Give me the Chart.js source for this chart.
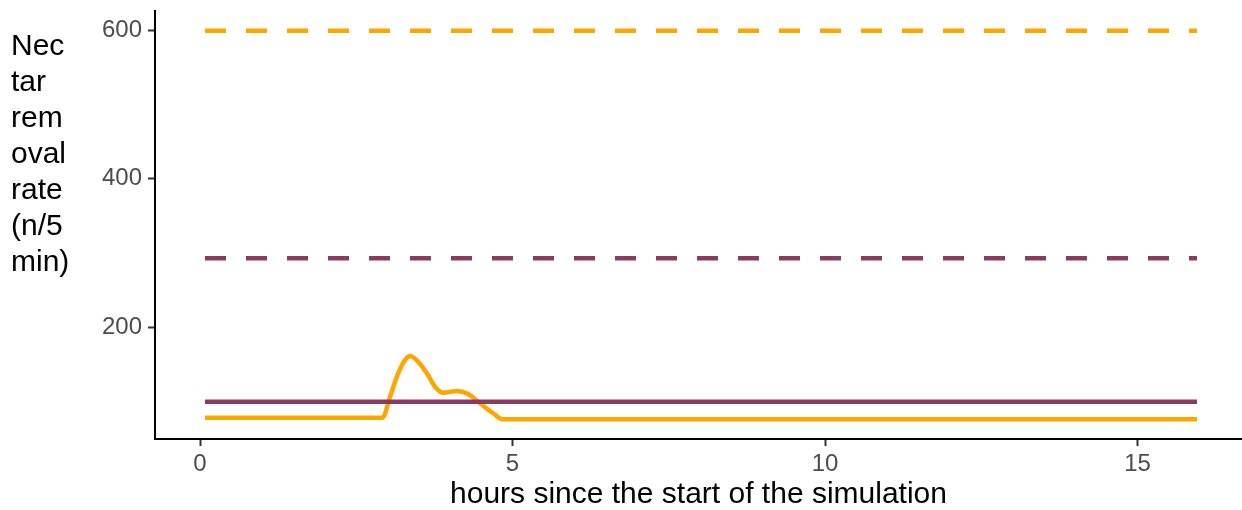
<!DOCTYPE html>
<html>
<head>
<meta charset="utf-8">
<script src="https://cdn.jsdelivr.net/npm/chart.js@4"></script>
<style>
html,body{margin:0;padding:0;background:#fff;}
#wrap{width:1242px;height:510px;position:relative;}
</style>
</head>
<body>
<div id="wrap"><canvas id="c" width="1242" height="510"></canvas></div>
<script>
// ---- data ----
const xTicks = [0, 5, 10, 15];
const yTicks = [200, 400, 600];
const xTitle = "hours since the start of the simulation";
const yTitleLines = ["Nec", "tar", "rem", "oval", "rate", "(n/5", "min)"];

const lineStartEnd = [0.08, 15.95];
const orangeDashedLevel = 599;
const purpleDashedLevel = 293;
const purpleSolidLevel = 100;

const orangeHours = [0.08, 2.92, 3.04, 3.17, 3.28, 3.36, 3.49, 3.63, 3.76, 3.89, 4.11, 4.29, 4.48, 4.69, 4.84, 15.95];
const orangeRate  = [78.7, 78.7, 106.8, 138.3, 156.1, 161.5, 153.8, 138.3, 120.3, 112.2, 114.5, 110.5, 98.0, 84.6, 76.6, 76.6];

const ORANGE = "#FFA500";
const PURPLE = "#8B3A62";

function pts(xs, ys){ return xs.map((x,i)=>({x:x, y:ys[i]})); }
function flat(level){ return lineStartEnd.map(x=>({x:x, y:level})); }

const titlePlugin = {
  id: 'titles',
  afterDraw(chart){
    const ctx = chart.ctx;
    ctx.save();
    ctx.fillStyle = '#000';
    ctx.font = '30px "Liberation Sans", Arial, sans-serif';
    ctx.textAlign = 'left';
    ctx.textBaseline = 'alphabetic';
    yTitleLines.forEach((t,i)=>{ ctx.fillText(t, 11, 55 + i*36); });
    ctx.textAlign = 'center';
    const ca = chart.chartArea;
    ctx.fillText(xTitle, (ca.left + ca.right)/2, 503);
    ctx.restore();
  }
};

new Chart(document.getElementById('c'), {
  type: 'line',
  data: {
    datasets: [
      { data: flat(orangeDashedLevel), borderColor: ORANGE, borderWidth: 4.5, borderDash: [21, 20], pointRadius: 0, borderCapStyle: 'butt' },
      { data: flat(purpleDashedLevel), borderColor: PURPLE, borderWidth: 4.5, borderDash: [21, 20], pointRadius: 0, borderCapStyle: 'butt' },
      { data: flat(purpleSolidLevel), borderColor: PURPLE, borderWidth: 4.5, pointRadius: 0 },
      { data: pts(orangeHours, orangeRate), borderColor: ORANGE, borderWidth: 4.5, pointRadius: 0, cubicInterpolationMode: 'monotone' }
    ]
  },
  options: {
    responsive: false,
    animation: false,
    layout: { padding: { top: 10, left: 0, right: 0, bottom: 0 } },
    plugins: { legend: { display: false }, tooltip: { enabled: false } },
    scales: {
      x: {
        type: 'linear',
        min: -0.72, max: 16.67,
        afterBuildTicks(s){ s.ticks = xTicks.map(v=>({value:v})); },
        afterFit(s){ s.height = 71; },
        grid: { drawOnChartArea: false, drawTicks: true, tickLength: 7, tickColor: '#333', tickWidth: 2 },
        border: { display: true, color: '#000', width: 2 },
        ticks: { color: '#4D4D4D', font: { size: 24, family: '"Liberation Sans", Arial, sans-serif' }, padding: 4, maxRotation: 0 }
      },
      y: {
        type: 'linear',
        min: 50, max: 626,
        afterBuildTicks(s){ s.ticks = yTicks.map(v=>({value:v})); },
        afterFit(s){ s.width = 155; },
        grid: { drawOnChartArea: false, drawTicks: true, tickLength: 7, tickColor: '#333', tickWidth: 2 },
        border: { display: true, color: '#000', width: 2 },
        ticks: { color: '#4D4D4D', font: { size: 24, lineHeight: 0.4, family: '"Liberation Sans", Arial, sans-serif' }, padding: 6 }
      }
    }
  },
  plugins: [titlePlugin]
});
</script>
</body>
</html>
